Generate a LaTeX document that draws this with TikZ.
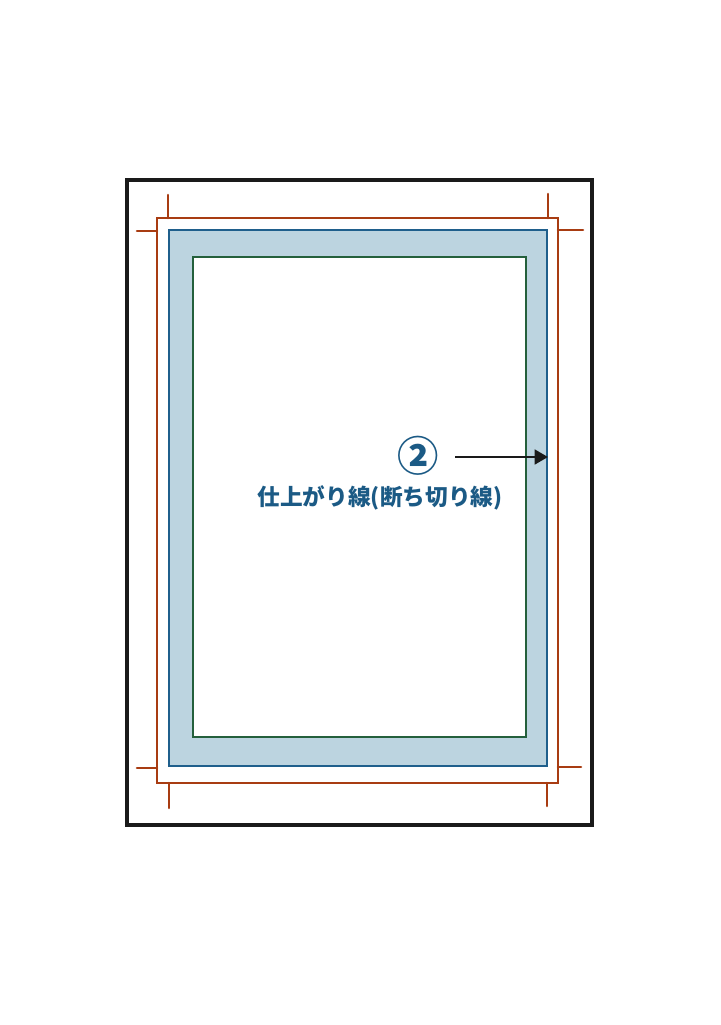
\documentclass[tikz,border=0pt]{standalone}
\usepackage{fontspec}
\usepackage{xcolor}
\usetikzlibrary{positioning, arrows.meta, calc}
\newfontfamily\jpfont{Noto Sans CJK JP}
\definecolor{sheetblack}{HTML}{1A1A1A}
\definecolor{bleedorange}{HTML}{A83C12}
\definecolor{trimblue}{HTML}{1F5F8C}
\definecolor{trimfill}{HTML}{BCD4E0}
\definecolor{safegreen}{HTML}{24603C}
\definecolor{labelblue}{HTML}{1B5A85}
\tikzset{
    sheet/.style={draw=sheetblack, line width=2.4pt},
    bleed/.style={draw=bleedorange, line width=1.9pt},
    cropmark/.style={draw=bleedorange, line width=1.9pt, line cap=round},
    trim/.style={draw=trimblue, fill=trimfill, line width=2.1pt},
    safe/.style={draw=safegreen, fill=white, line width=1.9pt},
    pointer/.style={draw=sheetblack, line width=2pt, -{Triangle[length=10pt, width=11pt]}},
    label/.style={font=\jpfont\bfseries, text=labelblue, inner sep=0pt},
}
\begin{document}
\begin{tikzpicture}[x=0.75pt, y=-0.75pt]
    \useasboundingbox (0,0) rectangle (721,1025);
    % sheet, bleed, trim and safe area
    \draw[sheet] (127,180) rectangle (592,825);
    \draw[bleed] (157,218) rectangle (558,783);
    \draw[trim] (169,230) rectangle (547,766);
    \draw[safe] (193,257) rectangle (526,737);
    % crop marks
    \draw[cropmark] (168,195) -- (168,218) (137,231) -- (157,231);
    \draw[cropmark] (548,194) -- (548,218) (558,230) -- (583,230);
    \draw[cropmark] (137,768) -- (157,768) (169,783) -- (169,808);
    \draw[cropmark] (558,767) -- (581,767) (547,783) -- (547,806);
    % label
    \coordinate (tail) at (455,457);
    \coordinate (trimedge) at (548,457);
    \node[label, font=\jpfont\bfseries\fontsize{31pt}{31pt}\selectfont] (num) at (418,456) {②};
    \node[label, font=\jpfont\bfseries\fontsize{17pt}{17pt}\selectfont] (name) at (380,498) {仕上がり線(断ち切り線)};
    \draw[pointer] (tail) -- (trimedge);
\end{tikzpicture}
\end{document}
